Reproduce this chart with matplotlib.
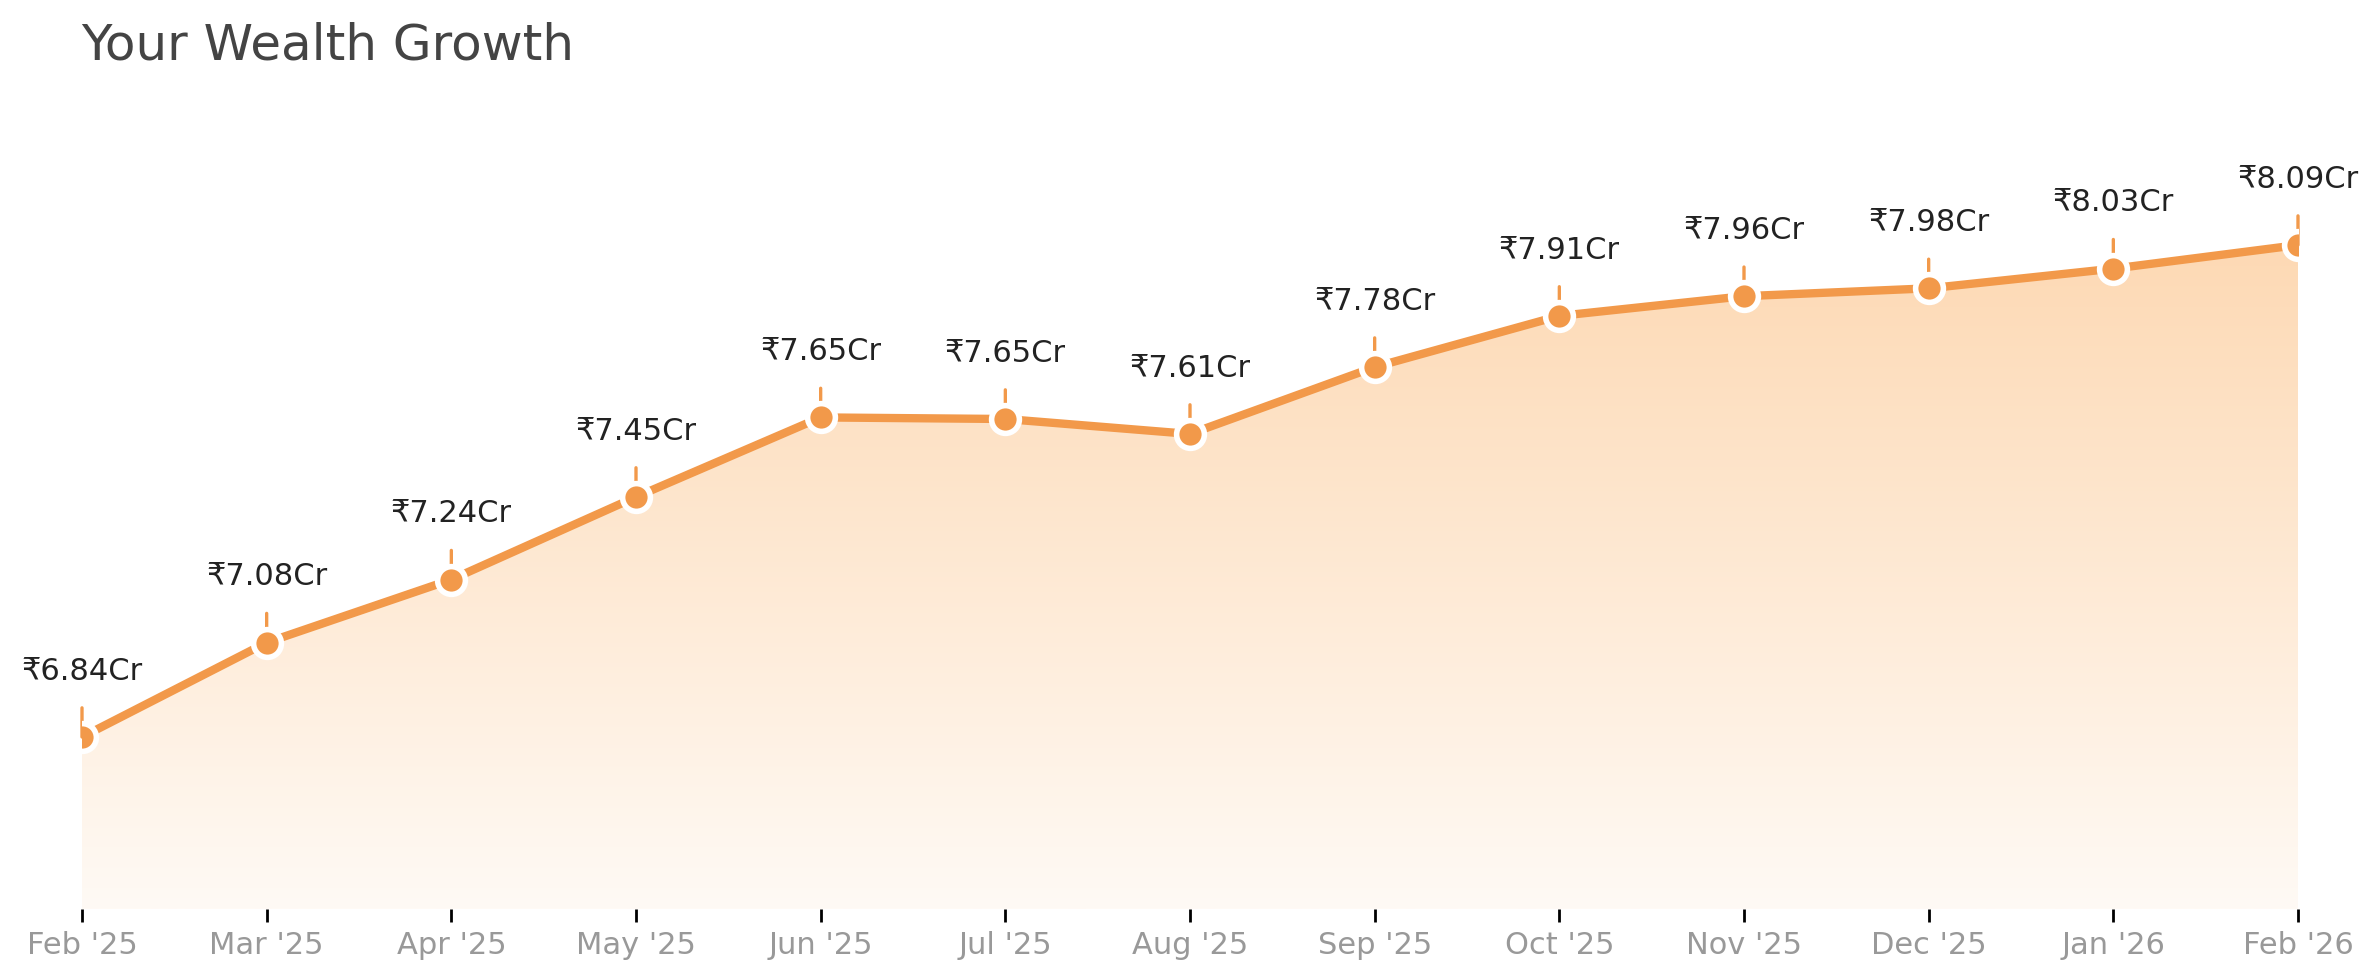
"""
Wealth growth line chart with gradient area fill and value labels.
"""

import matplotlib
matplotlib.use("Agg")
import matplotlib.pyplot as plt
import numpy as np
from matplotlib.colors import LinearSegmentedColormap
from matplotlib.patches import Polygon

# Data ##################################

months = ["Feb '25", "Mar '25", "Apr '25", "May '25", "Jun '25", "Jul '25",
          "Aug '25", "Sep '25", "Oct '25", "Nov '25", "Dec '25", "Jan '26",
          "Feb '26"]
wealth_cr = [6.84, 7.08, 7.24, 7.45, 7.652, 7.648, 7.61, 7.78, 7.91, 7.96,
             7.98, 8.03, 8.09]

LINE_COLOR = "#F2994A"
TITLE = "Your Wealth Growth"


def main() -> None:
    x = np.arange(len(months))
    y = np.array(wealth_cr)

    fig = plt.figure(figsize=(2379 / 200, 979 / 200), dpi=200)
    ax = fig.add_axes([82 / 2379, 1 - 910 / 979, (2298 - 82) / 2379,
                       (910 - 88.6) / 979])

    ymin, ymax = 6.403, 8.49
    ax.set_xlim(0, len(months) - 1)
    ax.set_ylim(ymin, ymax)

    # Gradient fill under the line, clipped to the area polygon
    cmap = LinearSegmentedColormap.from_list(
        "peach", ["#FFFAF5", "#FDD9B4"])
    grad = np.linspace(0, 1, 256).reshape(-1, 1)
    img = ax.imshow(grad, cmap=cmap, aspect="auto", origin="lower",
                    extent=[0, len(months) - 1, ymin, y.max()], zorder=1)
    verts = np.vstack([[0, ymin], np.column_stack([x, y]),
                       [len(months) - 1, ymin]])
    poly = Polygon(verts, closed=True, facecolor="none", edgecolor="none")
    ax.add_patch(poly)
    img.set_clip_path(poly)

    ax.plot(x, y, color=LINE_COLOR, lw=3, zorder=3)

    # Short tick line above each point plus the label
    for xi, yi in zip(x, y):
        ax.annotate("", xy=(xi, yi), xytext=(0, 10.5),
                    textcoords="offset points",
                    arrowprops=dict(arrowstyle="-", color=LINE_COLOR,
                                    lw=1.2, shrinkA=0, shrinkB=0),
                    zorder=2)
        ax.annotate(f"₹{yi:.2f}Cr", xy=(xi, yi), xytext=(0, 24),
                    textcoords="offset points", ha="center", va="center",
                    fontsize=11, color="#222222", zorder=5)

    ax.plot(x, y, "o", color=LINE_COLOR, markersize=10,
            markeredgecolor="white", markeredgewidth=2, zorder=4)

    ax.set_xticks(x)
    ax.set_xticklabels(months)
    ax.set_yticks([])
    ax.tick_params(axis="x", length=4.5, width=1, colors="black",
                   labelcolor="#999999", labelsize=11, pad=3)
    for spine in ax.spines.values():
        spine.set_visible(False)

    fig.text(81 / 2379, 1 - 45 / 979, TITLE, fontsize=18,
             color="#444444", ha="left", va="center")

    fig.savefig("out.png", dpi=200)
    plt.close(fig)


if __name__ == "__main__":
    main()
